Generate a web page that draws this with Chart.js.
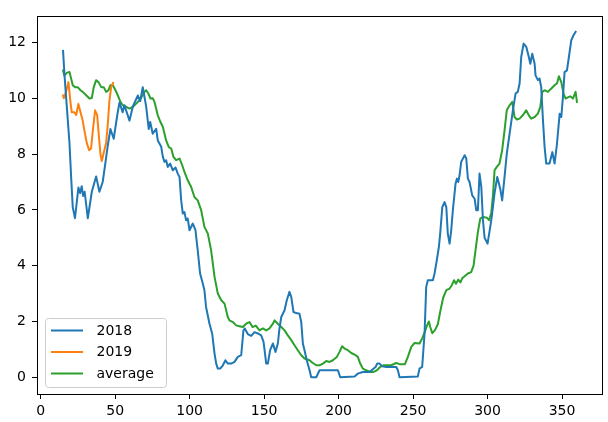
<!DOCTYPE html>
<html>
<head>
<meta charset="utf-8">
<script src="https://cdn.jsdelivr.net/npm/chart.js@4.4.1/dist/chart.umd.min.js"></script>
<style>
  html, body { margin: 0; padding: 0; background: #ffffff; }
  #wrap { width: 608px; height: 422px; position: relative; }
</style>
</head>
<body>
<div id="wrap"><canvas id="c"></canvas></div>
<script>
// ---- data ----
const seriesLabels = ["2018", "2019", "average"];
const seriesColors = ["#1f77b4", "#ff7f0e", "#2ca02c"];
const xTicks = [0, 50, 100, 150, 200, 250, 300, 350];
const yTicks = [0, 2, 4, 6, 8, 10, 12];

const days2018 = [15,16,17.5,19.3,20.4,21.5,23,25.3,26.5,27.5,28.5,29.5,31.6,34.3,37.2,39.4,41.6,43.2,45,46.8,49,51.7,52.9,55,56.2,59.6,61.8,65.2,66.8,68.5,70.8,72.5,73.5,75.2,77.5,78.6,80.9,82,83.1,84.2,85.3,86.9,88.7,90.5,92,93.2,94.3,95.4,96.5,97.6,98.7,99.9,102.1,103.9,105.4,107,108.8,109.9,111,113.3,115.1,116.7,117.8,118.9,120.5,122.3,124,125.6,127.9,130.1,132.3,134.6,136.1,137,139,141.3,143.5,145.8,148,149.6,151.4,152.5,154,155.9,157.6,159.2,160.3,161.5,163.7,165.2,167,168.2,169.7,171.5,173.7,174.9,176,177.1,178.6,180.5,181.6,185,187.2,199.5,201.1,210.7,212.9,216.2,220.7,224.8,225.9,227.5,229.3,232,238.7,239.8,240.9,253.2,254.3,256.1,257.7,258.8,259.9,263.3,264.4,265.9,267.3,268.2,269.6,271.1,272.3,273.3,274.5,275.6,276.7,278.5,279.4,280.3,281.2,282.3,284.6,285.7,286.8,287.9,289.7,291.3,292.4,293.5,294.6,295.8,296.9,298,300,301.8,302.8,304.7,306.5,308.5,309.8,311.4,312.9,314.8,317,318.8,320.3,321.5,322.6,324.2,326,327.7,328.7,330,331.6,332.2,333.8,334.9,336,337.2,338.3,339.4,341.6,343.5,345,346.6,348.4,349.5,350.6,351.7,353.3,354.6,356.2,357.7,359.1];
const values2018 = [11.7,10.8,9.7,8.4,7.2,6.1,5.7,6.8,6.6,6.85,6.5,6.65,5.7,6.65,7.2,6.65,7.0,7.6,8.3,8.9,8.55,9.5,9.85,9.5,9.75,9.2,9.7,10.1,9.9,10.4,9.7,8.9,9.15,8.73,8.91,8.49,8.26,7.9,7.72,7.78,7.54,7.66,7.42,7.52,7.3,7.18,6.34,5.87,5.92,5.63,5.69,5.27,5.51,5.27,4.55,3.72,3.36,3.12,2.52,1.92,1.57,0.85,0.49,0.31,0.31,0.43,0.61,0.49,0.49,0.55,0.73,0.79,1.68,1.75,1.55,1.48,1.62,1.57,1.5,1.27,0.49,0.49,0.97,1.21,0.91,1.21,1.75,2.16,2.4,2.76,3.06,2.88,2.34,2.3,2.28,1.98,1.21,0.97,0.61,0.25,0,0,0.25,0.25,0,0.03,0.13,0.19,0.19,0.37,0.49,0.49,0.39,0.37,0.37,0.25,0,0.03,0.31,0.37,1.57,3.24,3.48,3.48,3.72,4.19,4.67,5.15,6.1,6.28,6.1,5.15,4.79,5.27,5.99,6.94,7.12,7.0,7.24,7.72,7.96,7.84,7.12,7.0,6.52,6.4,5.99,5.99,7.3,6.82,5.63,5.0,4.79,5.39,5.75,6.6,7.18,6.76,6.34,7.18,8.02,8.73,9.57,10.17,10.23,10.53,11.48,11.96,11.84,11.48,11.24,11.6,11.24,10.82,10.65,10.71,10.4,9.21,8.25,7.66,7.66,8.07,7.66,8.37,9.45,9.33,10.05,10.94,11.0,11.48,12.08,12.26,12.38];

const days2019 = [15,15.5,17,18.6,19.9,20.8,22.6,23.8,25.3,26.7,28.2,29.3,30.9,32.5,33.8,34.9,36.5,37.9,38.8,40.1,41,42.3,43.9,45,46.1,47.3,48.6];
const values2019 = [10.1,10.0,10.23,10.58,9.9,9.5,9.5,9.4,9.8,9.5,9.2,8.85,8.4,8.14,8.2,8.8,9.57,9.4,8.8,8.0,7.75,8.05,8.4,9.05,9.9,10.4,10.55];

const daysAvg = [15,15.9,17.7,19.3,20.4,21.5,23.1,24.8,26.7,28.2,30.5,32.7,34.3,35.6,37.2,38.8,40.6,42.3,43.9,45.5,46.8,48.4,50.2,51.7,53.5,55.1,57.4,59.6,61.8,64.1,66.3,67.8,69.6,70.8,72.3,73.7,75.2,76.4,78.6,80.4,82,84.2,86,87.6,89.1,90.9,93.2,95,96.5,98.7,101,103.2,105.4,107.7,109.9,112.2,113.3,114.4,116.7,118.9,121.2,123.4,125.6,126.7,129,131.2,133.4,135.7,137.9,140.2,142.2,144.4,146.9,149.1,151.4,153.6,155.9,157,159.2,161.5,163.7,165.9,168.2,170.4,172.6,174.9,177.1,180.5,182.7,185,187.2,189.4,191.7,193.9,196.1,198.8,200.6,202.4,204,206.2,208.5,211.4,212.9,214.5,216.3,218.5,221.2,223.4,225.7,227.9,230.2,235.3,238.7,240.9,244.5,246.5,248.8,251,254.3,256.1,257.7,259.3,260.6,261.5,262.9,264.6,266.6,268.4,270.2,272.3,274.5,276,277.5,278.8,280.3,281.8,283,284.6,286.8,289,290.6,291.9,293.5,295.1,297,299.5,301,302.5,303.6,304.7,306.2,308,309.8,311.4,312.9,314.8,316.6,318.1,319.7,321.5,323.7,325.9,327.7,329.3,331.6,333.8,335.4,336.7,338.3,340.5,342.8,345,346.6,347.9,349.5,351,352.4,353.9,355.5,357.3,359.1,360];
const valuesAvg = [11.0,10.82,10.92,10.94,10.71,10.47,10.4,10.4,10.29,10.23,10.11,9.99,10.01,10.4,10.65,10.58,10.4,10.4,10.23,10.29,10.47,10.47,10.29,10.11,9.87,9.75,9.69,9.63,9.69,9.81,9.93,10.05,10.23,10.29,10.17,9.99,10.0,9.87,9.39,9.15,8.97,8.49,8.25,8.2,7.9,7.78,7.84,7.6,7.36,7.06,6.82,6.46,6.34,5.99,5.39,5.15,4.85,4.55,3.6,3.0,2.76,2.64,2.16,2.04,1.98,1.86,1.83,1.8,1.92,1.98,1.8,1.85,1.68,1.75,1.68,1.75,1.92,2.04,1.92,1.8,1.68,1.5,1.33,1.15,0.97,0.79,0.67,0.61,0.51,0.43,0.43,0.49,0.58,0.55,0.61,0.73,0.91,1.11,1.03,0.97,0.87,0.79,0.73,0.49,0.31,0.25,0.19,0.19,0.25,0.37,0.43,0.43,0.51,0.47,0.47,0.73,1.09,1.23,1.21,1.39,1.6,1.85,2.0,1.8,1.58,1.68,1.9,2.4,2.85,3.12,3.18,3.3,3.48,3.35,3.5,3.4,3.55,3.62,3.72,3.77,4.0,4.55,5.2,5.69,5.75,5.72,5.63,5.9,6.5,7.42,7.54,7.66,8.14,8.85,9.57,9.75,9.87,9.33,9.24,9.27,9.39,9.57,9.39,9.27,9.33,9.45,9.69,10.23,10.29,10.23,10.35,10.47,10.53,10.79,10.58,10.17,9.99,10.03,10.07,9.99,10.23,9.87];

function toPoints(xs, ys) { return xs.map((x, i) => ({ x: x, y: ys[i] })); }

const FONT = "'DejaVu Sans', sans-serif";

const framePlugin = {
  id: 'frame',
  afterDraw(chart) {
    const { ctx, chartArea: a } = chart;
    ctx.save();
    ctx.strokeStyle = '#000';
    ctx.lineWidth = 1;
    ctx.strokeRect(Math.round(a.left) + 0.5, Math.round(a.top) + 0.5,
                   Math.round(a.right - a.left) - 1, Math.round(a.bottom - a.top));
    ctx.restore();
  }
};

const legendPlugin = {
  id: 'innerLegend',
  afterDraw(chart) {
    const { ctx, chartArea: a } = chart;
    const ds = chart.data.datasets;
    const x0 = a.left + 8.5, y1 = a.bottom - 6.5;
    const w = 121, h = 69;
    const y0 = y1 - h;
    ctx.save();
    ctx.beginPath();
    const r = 3;
    ctx.moveTo(x0 + r, y0);
    ctx.lineTo(x0 + w - r, y0); ctx.quadraticCurveTo(x0 + w, y0, x0 + w, y0 + r);
    ctx.lineTo(x0 + w, y0 + h - r); ctx.quadraticCurveTo(x0 + w, y0 + h, x0 + w - r, y0 + h);
    ctx.lineTo(x0 + r, y0 + h); ctx.quadraticCurveTo(x0, y0 + h, x0, y0 + h - r);
    ctx.lineTo(x0, y0 + r); ctx.quadraticCurveTo(x0, y0, x0 + r, y0);
    ctx.closePath();
    ctx.fillStyle = 'rgba(255,255,255,0.8)';
    ctx.fill();
    ctx.strokeStyle = '#cccccc';
    ctx.lineWidth = 1;
    ctx.stroke();
    ds.forEach((d, i) => {
      const y = y0 + 12 + i * 21.5;
      ctx.beginPath();
      ctx.strokeStyle = d.borderColor;
      ctx.lineWidth = 2;
      ctx.moveTo(x0 + 5.5, y);
      ctx.lineTo(x0 + 37.5, y);
      ctx.stroke();
      ctx.fillStyle = '#000';
      ctx.font = '14px ' + FONT;
      ctx.textBaseline = 'middle';
      ctx.textAlign = 'left';
      ctx.fillText(d.label, x0 + 51, y + 0.5);
    });
    ctx.restore();
  }
};

const allX = [days2018, days2019, daysAvg];
const allY = [values2018, values2019, valuesAvg];

new Chart(document.getElementById('c'), {
  type: 'line',
  data: {
    datasets: seriesLabels.map((lab, i) => ({
      label: lab,
      data: toPoints(allX[i], allY[i]),
      borderColor: seriesColors[i],
      backgroundColor: seriesColors[i],
      borderWidth: 2,
      pointRadius: 0,
      tension: 0,
      fill: false,
      borderJoinStyle: 'round',
      borderCapStyle: 'square'
    }))
  },
  options: {
    responsive: true,
    maintainAspectRatio: false,
    devicePixelRatio: 1,
    animation: false,
    layout: { padding: { top: 16, right: 5, left: 0, bottom: 0 } },
    plugins: { legend: { display: false }, tooltip: { enabled: false } },
    scales: {
      x: {
        type: 'linear',
        min: -2.5,
        max: 377.5,
        afterBuildTicks: s => { s.ticks = xTicks.map(v => ({ value: v })); },
        afterFit: s => { s.height = 28; },
        grid: { drawOnChartArea: false, drawTicks: true, tickLength: 5, tickColor: '#000', tickWidth: 1 },
        border: { display: false },
        ticks: { color: '#000', font: { family: FONT, size: 14 }, padding: 4, maxRotation: 0, autoSkip: false }
      },
      y: {
        type: 'linear',
        min: -0.6,
        max: 12.95,
        afterBuildTicks: s => { s.ticks = yTicks.map(v => ({ value: v })); },
        afterFit: s => { s.width = 37; },
        grid: { drawOnChartArea: false, drawTicks: true, tickLength: 5, tickColor: '#000', tickWidth: 1 },
        border: { display: false },
        ticks: { color: '#000', font: { family: FONT, size: 14 }, padding: 6, autoSkip: false }
      }
    }
  },
  plugins: [framePlugin, legendPlugin]
});
</script>
</body>
</html>
